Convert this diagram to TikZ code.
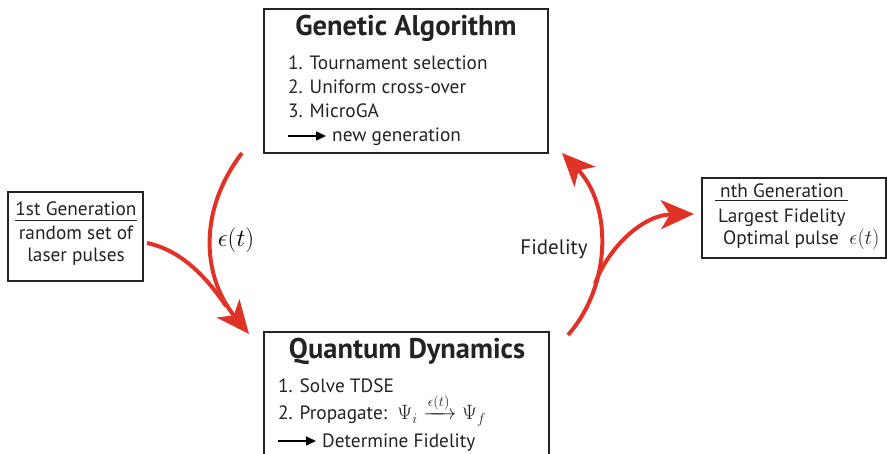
\documentclass[tikz,border=0pt]{standalone}
\usepackage{fontspec}
\usepackage{amsmath}
\setmainfont{PT Sans}
\usetikzlibrary{arrows.meta}
\definecolor{arrowred}{RGB}{224,50,38}
\definecolor{frame}{RGB}{35,35,35}
\begin{document}
\begin{tikzpicture}[x=1pt,y=-1pt,
  box/.style={draw=frame, line width=1.2pt, inner sep=0pt},
  title/.style={font=\bfseries\fontsize{28.5}{32}\selectfont, anchor=base, inner sep=0pt, text=frame},
  item/.style={font=\fontsize{19.3}{22}\selectfont, anchor=base west, inner sep=0pt, text=frame},
  centered/.style={font=\fontsize{19.3}{22}\selectfont, anchor=base, inner sep=0pt, text=frame},
  rule/.style={draw=frame, line width=1pt},
  smallarrow/.style={draw=black, line width=1.5pt, -{Triangle[length=10pt,width=9pt]}},
  flow/.style={draw=arrowred, line width=4pt},
  bigtip/.style={-{Stealth[length=33pt,width=29pt,inset=9pt]}}
]
\useasboundingbox (0,0) rectangle (887,454);

% boxes
\node[box, minimum width=284pt, minimum height=144pt] (ga) at (406,81) {};
\node[box, minimum width=285pt, minimum height=160pt] (qd) at (406.5,412) {};
\node[box, minimum width=135pt, minimum height=89pt] (first) at (75.5,236.5) {};
\node[box, minimum width=184pt, minimum height=80pt] (last) at (794,218) {};

% Genetic Algorithm
\node[title] (gatitle) at (406,36) {Genetic Algorithm};
\node[item] (ga1) at (288,70) {1. Tournament selection};
\node[item] (ga2) at (288,94) {2. Uniform cross-over};
\node[item] (ga3) at (288,118) {3. MicroGA};
\node[item] (ga4) at (332,142) {new generation};
\coordinate (ga4a) at (288,136);
\draw[smallarrow] (ga4a) -- +(38,0);

% Quantum Dynamics
\node[title] (qdtitle) at (407,359) {Quantum Dynamics};
\node[item] (qd1) at (278,393) {1. Solve TDSE};
\node[item] (qd2) at (278,420) {2. Propagate:\ \ $\Psi_i \xrightarrow{\epsilon(t)} \Psi_f$};
\node[item] (qd3) at (322,447) {Determine Fidelity};
\coordinate (qd3a) at (278,441);
\draw[smallarrow] (qd3a) -- +(38,0);

% first generation
\node[centered] (f1) at (76,216) {1st Generation};
\node[centered] (f2) at (76,240) {random set of};
\node[centered] (f3) at (76,262) {laser pulses};
\draw[rule] ([yshift=-5pt]f1.base west) -- ([yshift=-5pt]f1.base east);

% last generation
\node[centered] (l1) at (782,198) {nth Generation};
\node[item] (l2) at (718,223) {Largest Fidelity};
\node[item] (l3) at (723,245) {Optimal pulse\ \ {\fontsize{21}{22}\selectfont$\epsilon(t)$}};
\draw[rule] ([xshift=-5pt,yshift=-3pt]l1.base west) -- ([xshift=4pt,yshift=-3pt]l1.base east);

% red flow arrows
\draw[flow, bigtip] (242,153) .. controls (195,215) and (205,280) .. (249,334);
\draw[flow] (147,243) .. controls (180,250) and (205,275) .. (226,306);
\draw[flow, bigtip] (568,335) .. controls (612,285) and (612,205) .. (562,153);
\draw[flow, bigtip] (595,284) .. controls (606,252) and (640,215) .. (694,214);

% arrow labels
\node[font=\fontsize{28}{30}\selectfont, inner sep=0pt] (eps) at (236,240) {$\epsilon(t)$};
\node[font=\fontsize{21}{24}\selectfont, anchor=base, inner sep=0pt, text=frame] (fid) at (554,255) {Fidelity};
\end{tikzpicture}
\end{document}
